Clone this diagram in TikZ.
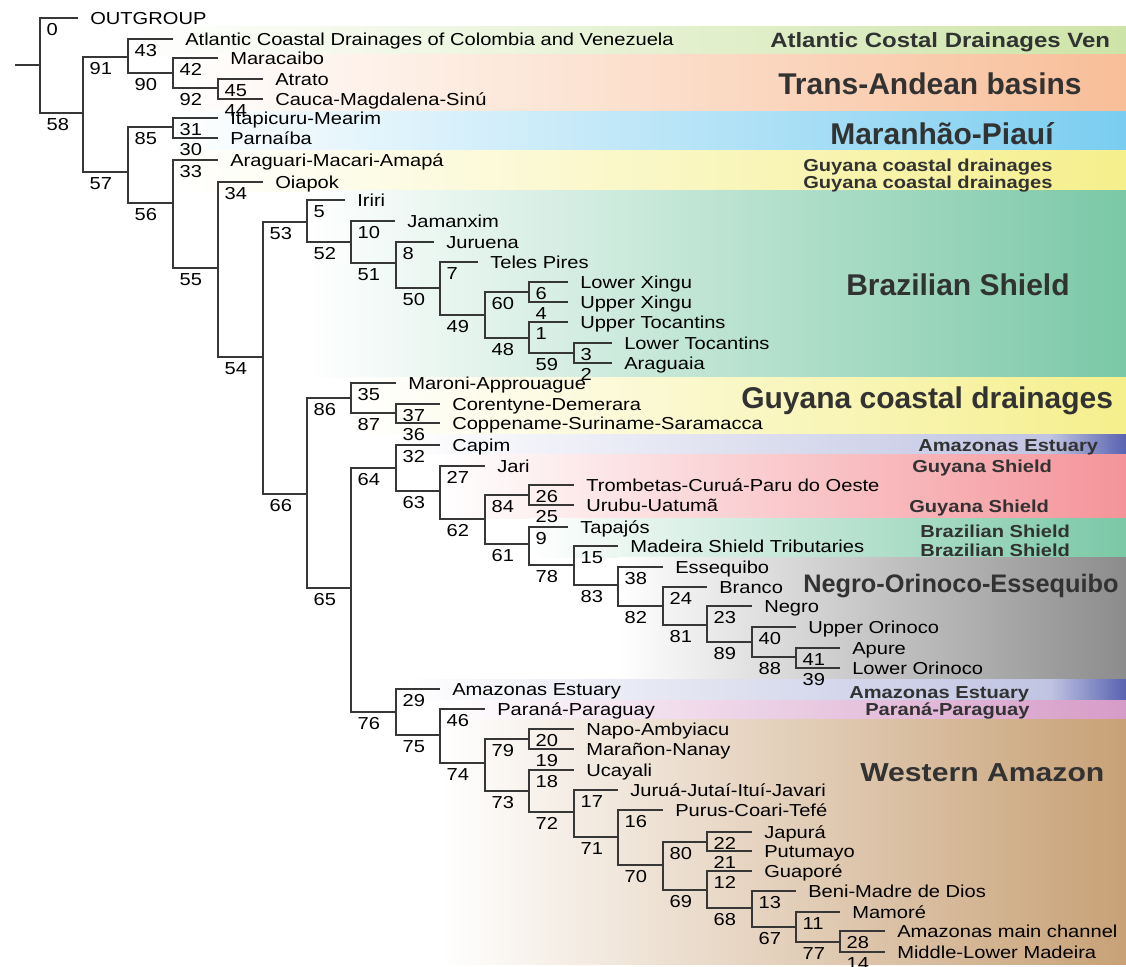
\documentclass[tikz,border=0pt]{standalone}
\usepackage{fontspec}
\setmainfont{Liberation Sans}[FakeStretch=1.16]
\newfontfamily\headfont{Liberation Sans}
\definecolor{atlgreen}{RGB}{205,228,168}
\definecolor{andes}{RGB}{248,190,152}
\definecolor{maranhao}{RGB}{122,205,240}
\definecolor{guycoast}{RGB}{245,239,140}
\definecolor{brshield}{RGB}{122,200,166}
\definecolor{estuary}{RGB}{88,98,176}
\definecolor{estuarylt}{RGB}{192,196,226}
\definecolor{guyshield}{RGB}{244,148,154}
\definecolor{negro}{RGB}{140,140,140}
\definecolor{parana}{RGB}{214,156,200}
\definecolor{wamazon}{RGB}{200,161,118}
\definecolor{branchgray}{RGB}{55,55,55}
\definecolor{headgray}{RGB}{50,50,50}
\begin{document}
\begin{tikzpicture}[x=0.75pt, y=-0.75pt,
  br/.style={draw=branchgray, line width=0.9pt},
  leaf/.style={anchor=west, inner xsep=9pt, inner ysep=0pt, text height=9.3pt, text depth=0pt, font=\fontsize{13}{15}\selectfont},
  bl/.style={midway, anchor=north west, inner sep=0pt, text height=9.3pt, text depth=0pt, xshift=4.5pt, yshift=-3.5pt, font=\fontsize{13}{15}\selectfont},
  tag/.style={anchor=base west, inner sep=0pt, text=headgray, font=\fontsize{13}{15}\selectfont\bfseries},
  bigtag/.style={anchor=base west, inner sep=0pt, text=headgray, font=\headfont\fontsize{22.5}{26}\selectfont\bfseries}]
\useasboundingbox (0,0) rectangle (1126,966);
\shade[left color=white, right color=atlgreen] (128,27) rectangle (1126,55.5);
\shade[left color=white, right color=andes] (173,55) rectangle (1126,112.5);
\shade[left color=white, right color=maranhao] (173,112) rectangle (1126,151.5);
\shade[left color=white, right color=guycoast] (173,151) rectangle (1126,191.5);
\shade[left color=white, right color=brshield] (307,191) rectangle (1126,377.5);
\shade[left color=white, right color=guycoast] (351,377) rectangle (1126,434.5);
\shade[left color=white, right color=estuarylt] (396,434) rectangle (1051,454.5);
\shade[left color=estuarylt, right color=estuary] (1050,434) rectangle (1126,454.5);
\shade[left color=white, right color=guyshield] (440,454) rectangle (1126,518.5);
\shade[left color=white, right color=brshield] (529,518) rectangle (1126,557.5);
\shade[left color=white, right color=negro] (618,557) rectangle (1126,679.5);
\shade[left color=white, right color=estuarylt] (396,679) rectangle (1051,700.5);
\shade[left color=estuarylt, right color=estuary] (1050,679) rectangle (1126,700.5);
\shade[left color=white, right color=parana] (440,700) rectangle (1126,719.5);
\shade[left color=white, right color=wamazon] (440,719) rectangle (1126,964);

\node[tag, font=\fontsize{15.5}{18}\selectfont\bfseries] (tAtl) at (770,48) {Atlantic Costal Drainages Ven};
\node[bigtag] (tAnd) at (778,95) {Trans-Andean basins};
\node[bigtag] (tMar) at (830,145) {Maranhão-Piauí};
\node[tag] (tGc1) at (803,172) {Guyana coastal drainages};
\node[tag] (tGc2) at (803,189) {Guyana coastal drainages};
\node[bigtag] (tBs) at (846,295) {Brazilian Shield};
\node[bigtag] (tGc3) at (741,408) {Guyana coastal drainages};
\node[tag] (tAe1) at (918,451) {Amazonas Estuary};
\node[tag] (tGs1) at (912,472) {Guyana Shield};
\node[tag] (tGs2) at (909,512) {Guyana Shield};
\node[tag] (tBs1) at (920,537) {Brazilian Shield};
\node[tag] (tBs2) at (920,556) {Brazilian Shield};
\node[bigtag, font=\headfont\fontsize{19}{22}\selectfont\bfseries] (tNoe) at (803,592) {Negro-Orinoco-Essequibo};
\node[tag] (tAe2) at (849,698) {Amazonas Estuary};
\node[tag] (tPp) at (865,715) {Paraná-Paraguay};
\node[tag, font=\fontsize{19.5}{22}\selectfont\bfseries] (tWa) at (860,781) {Western Amazon};

\node[leaf] (og) at (78,18) {OUTGROUP};
\node[leaf] (atl) at (173,39) {Atlantic Coastal Drainages of Colombia and Venezuela};
\node[leaf] (mcb) at (218,58) {Maracaibo};
\node[leaf] (atr) at (263,79) {Atrato};
\node[leaf] (cms) at (263,99) {Cauca-Magdalena-Sinú};
\node[leaf] (itm) at (218,118) {Itapicuru-Mearim};
\node[leaf] (pnb) at (218,138) {Parnaíba};
\node[leaf] (ama) at (218,160) {Araguari-Macari-Amapá};
\node[leaf] (oia) at (263,182) {Oiapok};
\node[leaf] (iri) at (345,200) {Iriri};
\node[leaf] (jam) at (395,221) {Jamanxim};
\node[leaf] (jur) at (434,242) {Juruena};
\node[leaf] (tpi) at (478,262) {Teles Pires};
\node[leaf] (lxi) at (568,282) {Lower Xingu};
\node[leaf] (uxi) at (568,302) {Upper Xingu};
\node[leaf] (uto) at (568,322) {Upper Tocantins};
\node[leaf] (lto) at (612,343) {Lower Tocantins};
\node[leaf] (agu) at (612,363) {Araguaia};
\node[leaf] (mar) at (396,383) {Maroni-Approuague};
\node[leaf] (cde) at (440,404) {Corentyne-Demerara};
\node[leaf] (css) at (440,423) {Coppename-Suriname-Saramacca};
\node[leaf] (cap) at (440,445) {Capim};
\node[leaf] (jar) at (485,466) {Jari};
\node[leaf] (tcp) at (574,485) {Trombetas-Curuá-Paru do Oeste};
\node[leaf] (uru) at (574,505) {Urubu-Uatumã};
\node[leaf] (tap) at (568,527) {Tapajós};
\node[leaf] (mst) at (618,546) {Madeira Shield Tributaries};
\node[leaf] (esq) at (663,567) {Essequibo};
\node[leaf] (brc) at (707,587) {Branco};
\node[leaf] (ngr) at (752,606) {Negro};
\node[leaf] (uor) at (796,627) {Upper Orinoco};
\node[leaf] (apu) at (840,648) {Apure};
\node[leaf] (lor) at (840,668) {Lower Orinoco};
\node[leaf] (aes) at (440,689) {Amazonas Estuary};
\node[leaf] (ppy) at (485,709) {Paraná-Paraguay};
\node[leaf] (nam) at (574,729) {Napo-Ambyiacu};
\node[leaf] (mnn) at (574,749) {Marañon-Nanay};
\node[leaf] (uca) at (574,770) {Ucayali};
\node[leaf] (jji) at (618,790) {Juruá-Jutaí-Ituí-Javari};
\node[leaf] (pct) at (663,810) {Purus-Coari-Tefé};
\node[leaf] (jap) at (752,832) {Japurá};
\node[leaf] (ptm) at (752,851) {Putumayo};
\node[leaf] (gpo) at (752,871) {Guaporé};
\node[leaf] (bmd) at (796,891) {Beni-Madre de Dios};
\node[leaf] (mam) at (840,912) {Mamoré};
\node[leaf] (amc) at (885,931) {Amazonas main channel};
\node[leaf] (mlm) at (885,952) {Middle-Lower Madeira};

\coordinate (n0) at (15,65);
\coordinate (root) at (40,65);
\coordinate (n58) at (83,113);
\coordinate (n91) at (128,57);
\coordinate (n90) at (173,73);
\coordinate (n92) at (218,88);
\coordinate (n57) at (128,172);
\coordinate (n85) at (173,127);
\coordinate (n56) at (173,203);
\coordinate (n55) at (218,268);
\coordinate (n54) at (263,357);
\coordinate (n53) at (307,222);
\coordinate (n52) at (351,242);
\coordinate (n51) at (396,263);
\coordinate (n50) at (440,288);
\coordinate (n49) at (485,315);
\coordinate (n60) at (529,292);
\coordinate (n48) at (529,338);
\coordinate (n59) at (574,353);
\coordinate (n66) at (307,494);
\coordinate (n86) at (351,398);
\coordinate (n87) at (396,413);
\coordinate (n65) at (351,588);
\coordinate (n64) at (396,468);
\coordinate (n63) at (440,491);
\coordinate (n62) at (485,519);
\coordinate (n84) at (529,495);
\coordinate (n61) at (529,544);
\coordinate (n78) at (574,565);
\coordinate (n83) at (618,585);
\coordinate (n82) at (663,606);
\coordinate (n81) at (707,625);
\coordinate (n89) at (752,642);
\coordinate (n88) at (796,657);
\coordinate (n76) at (396,712);
\coordinate (n75) at (440,735);
\coordinate (n74) at (485,763);
\coordinate (n79) at (529,739);
\coordinate (n73) at (529,791);
\coordinate (n72) at (574,812);
\coordinate (n71) at (618,837);
\coordinate (n70) at (663,865);
\coordinate (n80) at (707,842);
\coordinate (n69) at (707,890);
\coordinate (n68) at (752,908);
\coordinate (n67) at (796,927);
\coordinate (n77) at (840,942);

\draw[br] (n0) -- (root);
\draw[br] (root) |- node[bl] (l0) {0} (og);
\draw[br] (root) |- node[bl] (l58) {58} (n58);
\draw[br] (n58) |- node[bl] (l91) {91} (n91);
\draw[br] (n58) |- node[bl] (l57) {57} (n57);
\draw[br] (n91) |- node[bl] (l43) {43} (atl);
\draw[br] (n91) |- node[bl] (l90) {90} (n90);
\draw[br] (n90) |- node[bl] (l42) {42} (mcb);
\draw[br] (n90) |- node[bl] (l92) {92} (n92);
\draw[br] (n92) |- node[bl] (l45) {45} (atr);
\draw[br] (n92) |- node[bl] (l44) {44} (cms);
\draw[br] (n57) |- node[bl] (l85) {85} (n85);
\draw[br] (n57) |- node[bl] (l56) {56} (n56);
\draw[br] (n85) |- node[bl] (l31) {31} (itm);
\draw[br] (n85) |- node[bl] (l30) {30} (pnb);
\draw[br] (n56) |- node[bl] (l33) {33} (ama);
\draw[br] (n56) |- node[bl] (l55) {55} (n55);
\draw[br] (n55) |- node[bl] (l34) {34} (oia);
\draw[br] (n55) |- node[bl] (l54) {54} (n54);
\draw[br] (n54) |- node[bl] (l53) {53} (n53);
\draw[br] (n54) |- node[bl] (l66) {66} (n66);
\draw[br] (n53) |- node[bl] (l5) {5} (iri);
\draw[br] (n53) |- node[bl] (l52) {52} (n52);
\draw[br] (n52) |- node[bl] (l10) {10} (jam);
\draw[br] (n52) |- node[bl] (l51) {51} (n51);
\draw[br] (n51) |- node[bl] (l8) {8} (jur);
\draw[br] (n51) |- node[bl] (l50) {50} (n50);
\draw[br] (n50) |- node[bl] (l7) {7} (tpi);
\draw[br] (n50) |- node[bl] (l49) {49} (n49);
\draw[br] (n49) |- node[bl] (l60) {60} (n60);
\draw[br] (n49) |- node[bl] (l48) {48} (n48);
\draw[br] (n60) |- node[bl] (l6) {6} (lxi);
\draw[br] (n60) |- node[bl] (l4) {4} (uxi);
\draw[br] (n48) |- node[bl] (l1) {1} (uto);
\draw[br] (n48) |- node[bl] (l59) {59} (n59);
\draw[br] (n59) |- node[bl] (l3) {3} (lto);
\draw[br] (n59) |- node[bl] (l2) {2} (agu);
\draw[br] (n66) |- node[bl] (l86) {86} (n86);
\draw[br] (n66) |- node[bl] (l65) {65} (n65);
\draw[br] (n86) |- node[bl] (l35) {35} (mar);
\draw[br] (n86) |- node[bl] (l87) {87} (n87);
\draw[br] (n87) |- node[bl] (l37) {37} (cde);
\draw[br] (n87) |- node[bl] (l36) {36} (css);
\draw[br] (n65) |- node[bl] (l64) {64} (n64);
\draw[br] (n65) |- node[bl] (l76) {76} (n76);
\draw[br] (n64) |- node[bl] (l32) {32} (cap);
\draw[br] (n64) |- node[bl] (l63) {63} (n63);
\draw[br] (n63) |- node[bl] (l27) {27} (jar);
\draw[br] (n63) |- node[bl] (l62) {62} (n62);
\draw[br] (n62) |- node[bl] (l84) {84} (n84);
\draw[br] (n62) |- node[bl] (l61) {61} (n61);
\draw[br] (n84) |- node[bl] (l26) {26} (tcp);
\draw[br] (n84) |- node[bl] (l25) {25} (uru);
\draw[br] (n61) |- node[bl] (l9) {9} (tap);
\draw[br] (n61) |- node[bl] (l78) {78} (n78);
\draw[br] (n78) |- node[bl] (l15) {15} (mst);
\draw[br] (n78) |- node[bl] (l83) {83} (n83);
\draw[br] (n83) |- node[bl] (l38) {38} (esq);
\draw[br] (n83) |- node[bl] (l82) {82} (n82);
\draw[br] (n82) |- node[bl] (l24) {24} (brc);
\draw[br] (n82) |- node[bl] (l81) {81} (n81);
\draw[br] (n81) |- node[bl] (l23) {23} (ngr);
\draw[br] (n81) |- node[bl] (l89) {89} (n89);
\draw[br] (n89) |- node[bl] (l40) {40} (uor);
\draw[br] (n89) |- node[bl] (l88) {88} (n88);
\draw[br] (n88) |- node[bl] (l41) {41} (apu);
\draw[br] (n88) |- node[bl] (l39) {39} (lor);
\draw[br] (n76) |- node[bl] (l29) {29} (aes);
\draw[br] (n76) |- node[bl] (l75) {75} (n75);
\draw[br] (n75) |- node[bl] (l46) {46} (ppy);
\draw[br] (n75) |- node[bl] (l74) {74} (n74);
\draw[br] (n74) |- node[bl] (l79) {79} (n79);
\draw[br] (n74) |- node[bl] (l73) {73} (n73);
\draw[br] (n79) |- node[bl] (l20) {20} (nam);
\draw[br] (n79) |- node[bl] (l19) {19} (mnn);
\draw[br] (n73) |- node[bl] (l18) {18} (uca);
\draw[br] (n73) |- node[bl] (l72) {72} (n72);
\draw[br] (n72) |- node[bl] (l17) {17} (jji);
\draw[br] (n72) |- node[bl] (l71) {71} (n71);
\draw[br] (n71) |- node[bl] (l16) {16} (pct);
\draw[br] (n71) |- node[bl] (l70) {70} (n70);
\draw[br] (n70) |- node[bl] (l80) {80} (n80);
\draw[br] (n70) |- node[bl] (l69) {69} (n69);
\draw[br] (n80) |- node[bl] (l22) {22} (jap);
\draw[br] (n80) |- node[bl] (l21) {21} (ptm);
\draw[br] (n69) |- node[bl] (l12) {12} (gpo);
\draw[br] (n69) |- node[bl] (l68) {68} (n68);
\draw[br] (n68) |- node[bl] (l13) {13} (bmd);
\draw[br] (n68) |- node[bl] (l67) {67} (n67);
\draw[br] (n67) |- node[bl] (l11) {11} (mam);
\draw[br] (n67) |- node[bl] (l77) {77} (n77);
\draw[br] (n77) |- node[bl] (l28) {28} (amc);
\draw[br] (n77) |- node[bl] (l14) {14} (mlm);
\end{tikzpicture}
\end{document}
